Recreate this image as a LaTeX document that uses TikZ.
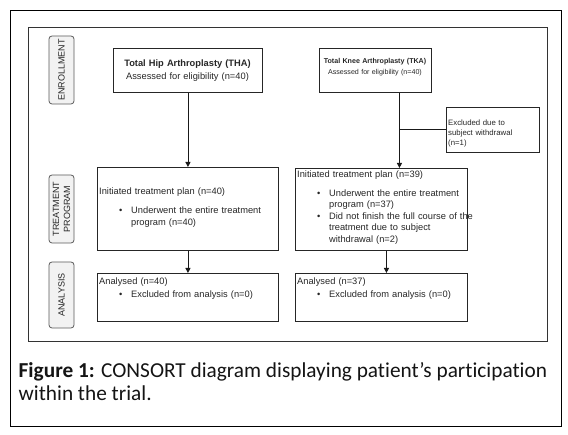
\documentclass[tikz,border=0pt]{standalone}
\usepackage{fontspec}
\setmainfont{Liberation Sans}
\newfontfamily\capfont[Ligatures=NoCommon]{Carlito}
\usetikzlibrary{arrows.meta,calc}
\newcommand{\bitem}[1]{\makebox[32pt][l]{\hspace*{20pt}\textbullet}#1}
\newcommand{\bcont}[1]{\hspace*{32pt}#1}
\begin{document}
\begin{tikzpicture}[x=1pt,y=-1pt,
  box/.style={draw=black!85, line width=0.9pt, inner sep=0pt, anchor=north west},
  txt/.style={inner sep=0pt, text=black!85, align=left, anchor=base west},
  lab/.style={draw=black!65, fill=black!5, rounded corners=3pt, line width=0.8pt, inner sep=0pt,
    rotate=90, minimum height=25pt, text=black!85, align=center, font=\fontsize{9}{11}\selectfont},
  arr/.style={draw=black!90, line width=0.9pt, -{Triangle[length=5pt,width=5pt]}},
  con/.style={draw=black!90, line width=0.9pt}]
\useasboundingbox (0,0) rectangle (568,435);
\draw[line width=0.9pt] (10,10) rectangle (561,426);
\draw[line width=0.8pt, black!80] (28,27) rectangle (547,341);
% labels
\node[lab, minimum width=68pt] (lenr) at (61.5,70) {ENROLLMENT};
\node[lab, minimum width=68pt] (ltrt) at (61.5,209) {TREATMENT\\PROGRAM};
\node[lab, minimum width=66pt] (lana) at (61.5,295) {ANALYSIS};
% boxes
\node[box, minimum width=149pt, minimum height=44pt] (tha) at (113,48) {};
\node[box, minimum width=112pt, minimum height=44pt] (tka) at (319,48) {};
\node[box, minimum width=93pt, minimum height=45pt] (ex) at (446,107) {};
\node[box, minimum width=181pt, minimum height=83pt] (t1) at (97,167) {};
\node[box, minimum width=172pt, minimum height=82pt] (t2) at (295,168) {};
\node[box, minimum width=181pt, minimum height=48pt] (a1) at (97,273) {};
\node[box, minimum width=172pt, minimum height=48pt] (a2) at (295,273) {};
% texts
\node[txt, anchor=base, align=center, text width=145pt, font=\fontsize{9.3}{13}\selectfont] (thatx) at (187.5,66.3)
  {\textbf{Total Hip Arthroplasty (THA)}\\Assessed for eligibility (n=40)};
\node[txt, anchor=base, align=center, text width=110pt, font=\fontsize{7.1}{11}\selectfont] (tkatx) at (375,63.6)
  {\textbf{Total Knee Arthroplasty (TKA)}\\Assessed for eligibility (n=40)};
\node[txt, text width=90pt, font=\fontsize{7.8}{9.7}\selectfont] (extx) at (448,126)
  {Excluded due to\\subject withdrawal\\(n=1)};
\node[txt, text width=220pt, font=\fontsize{9.3}{11.8}\selectfont] (t1tx) at (99,194.5)
  {Initiated treatment plan (n=40)\\[7.2pt]
   \bitem{Underwent the entire treatment}\\
   \bcont{program (n=40)}};
\node[txt, text width=220pt, font=\fontsize{9.3}{11.5}\selectfont] (t2tx) at (297,177.5)
  {Initiated treatment plan (n=39)\\[7.5pt]
   \bitem{Underwent the entire treatment}\\
   \bcont{program (n=37)}\\
   \bitem{Did not finish the full course of the}\\
   \bcont{treatment due to subject}\\
   \bcont{withdrawal (n=2)}};
\node[txt, text width=220pt, font=\fontsize{9.3}{11.8}\selectfont] (a1tx) at (99,284.5)
  {Analysed (n=40)\\[1.2pt]
   \bitem{Excluded from analysis (n=0)}};
\node[txt, text width=220pt, font=\fontsize{9.3}{11.8}\selectfont] (a2tx) at (297,284.5)
  {Analysed (n=37)\\[1.2pt]
   \bitem{Excluded from analysis (n=0)}};
% connectors
\draw[arr] (tha.south) -- (t1.north);
\coordinate (ka) at ([xshift=24pt]tka.south);
\draw[arr] (ka) -- (ka |- t2.north);
\draw[con] (ex.west) -- (ex.west -| ka);
\draw[arr] (t1.south) -- (a1.north);
\coordinate (kb) at ([xshift=5pt]t2.south);
\draw[arr] (kb) -- (kb |- a2.north);
% caption
\node[inner sep=0pt, anchor=base west, align=left, text=black!92, font=\capfont\fontsize{21.3}{23}\selectfont] (cap) at (18.5,400.5)
  {\textbf{Figure 1:} CONSORT diagram displaying patient’s participation\\within the trial.};
\end{tikzpicture}
\end{document}
